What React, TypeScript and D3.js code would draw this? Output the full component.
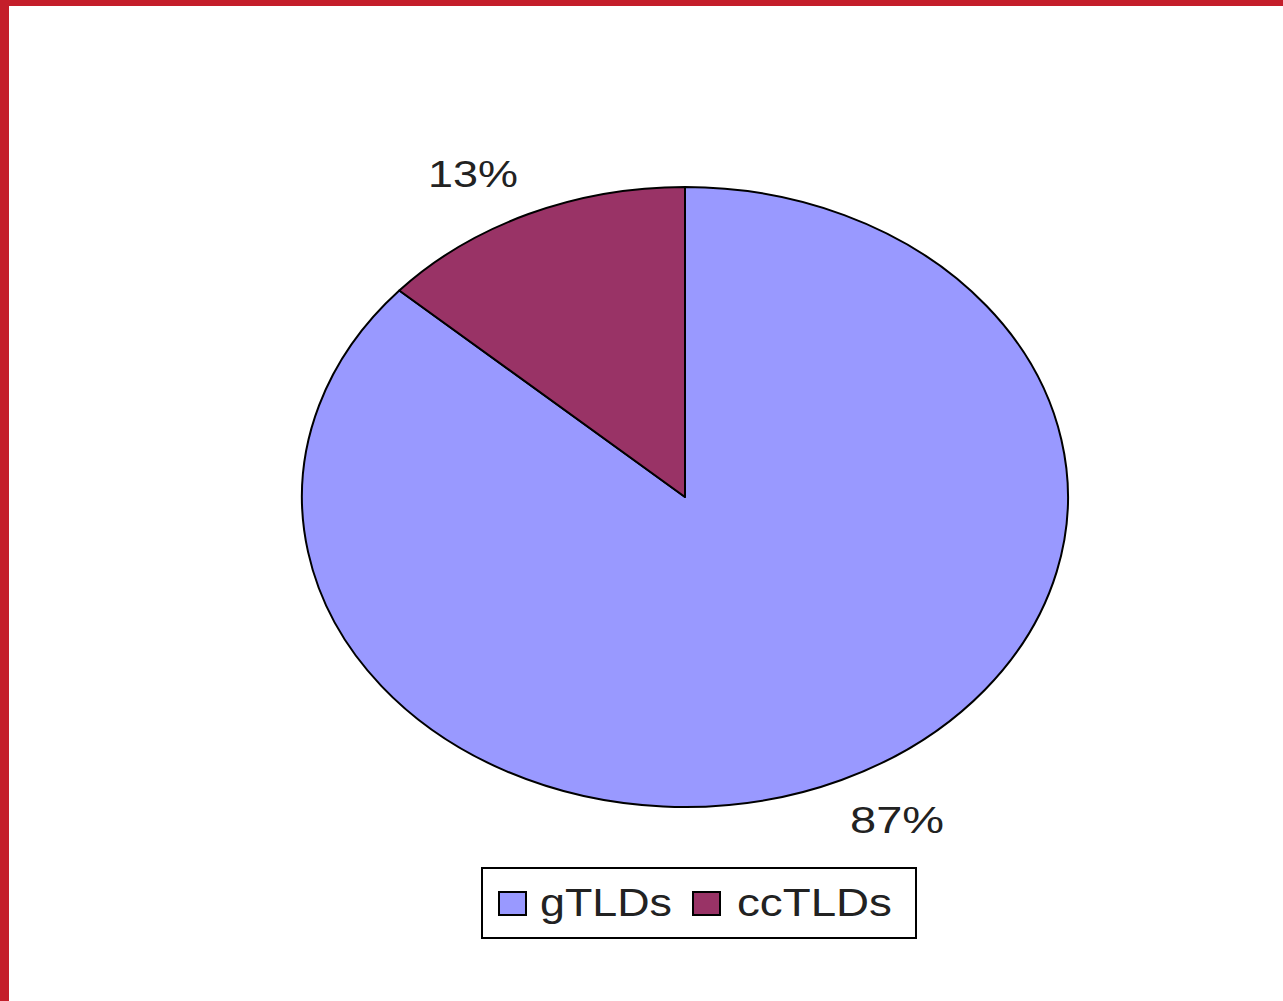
import React from "react";
import * as d3 from "d3";

const categories = ["gTLDs", "ccTLDs"];
const values = [86.6, 13.4];
const colors = ["#9999FF", "#993366"];

export default function App() {
  const W = 1283, H = 1001;
  const cx = 685, cy = 497, rx = 383, ry = 310;
  const pie = d3.pie<number>().sort(null).value((d) => d);
  const arcs = pie(values);
  const total = d3.sum(values);
  const arcGen = d3.arc<d3.PieArcDatum<number>>().innerRadius(0).outerRadius(1);

  const legendX = 482, legendY = 868, legendW = 434, legendH = 70;
  const itemX = [499, 693];
  const textX = [540, 737];
  const textLen = [132, 155];
  const labelLen = [94, 90];

  return (
    <svg width={W} height={H} style={{ position: "absolute", left: 0, top: 0, background: "#fff" }}
      fontFamily="'Liberation Sans', Arial, sans-serif">
      <rect x={0} y={0} width={W} height={H} fill="#fff" />
      <rect x={0} y={0} width={W} height={6} fill="#C41E2A" />
      <rect x={0} y={0} width={9} height={H} fill="#C41E2A" />
      <g transform={`translate(${cx},${cy}) scale(${rx},${ry})`}>
        {arcs.map((a, i) => (
          <path key={categories[i]} d={arcGen(a) || ""} fill={colors[i]} stroke="#000"
            strokeWidth={2} vectorEffect="non-scaling-stroke" strokeLinejoin="round" />
        ))}
      </g>
      {arcs.map((a, i) => {
        const m = (a.startAngle + a.endAngle) / 2;
        const x = cx + rx * 1.355 * Math.sin(m);
        const y = cy - ry * 1.14 * Math.cos(m);
        const txt = Math.round((values[i] / total) * 100) + "%";
        return (
          <text key={"l" + i} x={x - labelLen[i] / 2} y={y + 13} fontSize={37} fill="#222"
            textLength={labelLen[i]} lengthAdjust="spacingAndGlyphs">
            {txt}
          </text>
        );
      })}
      <rect x={legendX} y={legendY} width={legendW} height={legendH} fill="#fff" stroke="#000" strokeWidth={2} />
      {categories.map((c, i) => (
        <g key={"lg" + c}>
          <rect x={itemX[i]} y={892} width={27} height={23} fill={colors[i]} stroke="#000" strokeWidth={2} />
          <text x={textX[i]} y={916} fontSize={39} fill="#222" textLength={textLen[i]} lengthAdjust="spacingAndGlyphs">
            {c}
          </text>
        </g>
      ))}
    </svg>
  );
}
